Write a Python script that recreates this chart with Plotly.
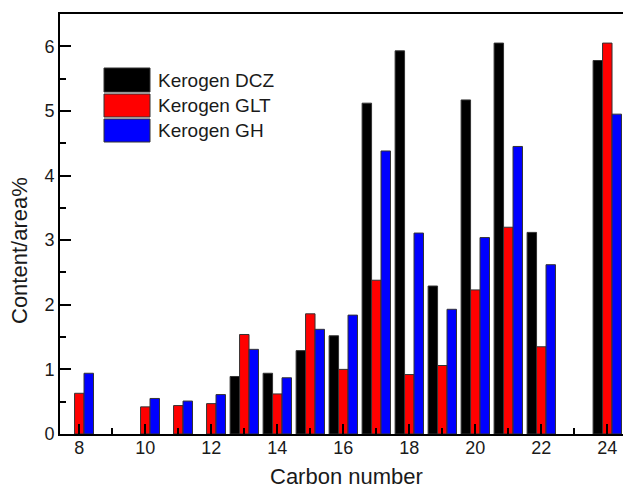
import plotly.graph_objects as go

# ---- data ----
carbon = [8, 9, 10, 11, 12, 13, 14, 15, 16, 17, 18, 19, 20, 21, 22, 23, 24]
kerogen_dcz = [None, None, None, None, None, 0.89, 0.94, 1.29, 1.52, 5.12, 5.93, 2.29, 5.17, 6.05, 3.12, None, 5.78]
kerogen_glt = [0.63, None, 0.42, 0.44, 0.47, 1.54, 0.62, 1.86, 1.00, 2.38, 0.92, 1.06, 2.23, 3.20, 1.35, None, 6.05]
kerogen_gh = [0.94, None, 0.55, 0.51, 0.61, 1.31, 0.87, 1.62, 1.84, 4.38, 3.11, 1.93, 3.04, 4.45, 2.62, None, 4.95]
series_names = ["Kerogen DCZ", "Kerogen GLT", "Kerogen GH"]
series_colors = ["#000000", "#ff0000", "#0000ff"]
x_ticks = [8, 10, 12, 14, 16, 18, 20, 22, 24]
y_ticks = [0, 1, 2, 3, 4, 5, 6]

FONT = "Liberation Sans, Arial, Helvetica, sans-serif"
TXT = "#1a1a1a"

fig = go.Figure()
for name, vals, col in zip(series_names, [kerogen_dcz, kerogen_glt, kerogen_gh], series_colors):
    fig.add_trace(go.Bar(
        x=carbon, y=vals, name=name, showlegend=False,
        marker=dict(color=col, line=dict(color="#333333", width=1)),
    ))

# custom legend (large swatches like the reference)
W = 563.0
H = 420.0
def px_x(p):
    return (p - 60) / W
def px_y(p):
    return (434 - p) / H

swatch_rows = [(68, 92), (94, 117), (119, 142)]
for (top, bot), name, col in zip(swatch_rows, series_names, series_colors):
    fig.add_shape(type="rect", xref="paper", yref="paper",
                  x0=px_x(104), x1=px_x(150), y0=px_y(bot), y1=px_y(top),
                  fillcolor=col, line=dict(color="#333333", width=1))
    fig.add_annotation(xref="paper", yref="paper", x=px_x(156), y=px_y((top + bot) / 2),
                       text=name, showarrow=False, xanchor="left", yanchor="middle",
                       font=dict(family=FONT, size=19, color=TXT))

# axis titles
fig.add_annotation(xref="paper", yref="paper", x=px_x(346), y=px_y(490),
                   text="Carbon number", showarrow=False, xanchor="center", yanchor="bottom",
                   borderpad=0,
                   font=dict(family=FONT, size=22, color=TXT))
fig.add_annotation(xref="paper", yref="paper", x=px_x(19), y=px_y(251),
                   text="Content/area%", showarrow=False, textangle=-90,
                   xanchor="center", yanchor="middle",
                   font=dict(family=FONT, size=22, color=TXT))

fig.update_layout(
    width=623, height=490,
    margin=dict(l=60, r=0, t=14, b=56),
    paper_bgcolor="white", plot_bgcolor="white",
    barmode="group", bargap=0.14, bargroupgap=0,
    font=dict(family=FONT, size=18, color=TXT),
    xaxis=dict(
        range=[7.415, 24.476], tickmode="array", tickvals=x_ticks,
        ticks="inside", ticklen=10, tickwidth=2, tickcolor="black",
        ticklabelstandoff=-4,
        minor=dict(dtick=1, tick0=8, ticks="inside", ticklen=6, tickwidth=2, tickcolor="black", showgrid=False),
        showline=True, linewidth=2, linecolor="black", mirror=True,
        showgrid=False, zeroline=False,
        tickfont=dict(family=FONT, size=18, color=TXT),
    ),
    yaxis=dict(
        range=[0, 6.5], tickmode="array", tickvals=y_ticks,
        ticks="inside", ticklen=11, tickwidth=2, tickcolor="black",
        minor=dict(dtick=0.5, tick0=0, ticks="inside", ticklen=6, tickwidth=2, tickcolor="black", showgrid=False),
        showline=True, linewidth=2, linecolor="black", mirror=False,
        showgrid=False, zeroline=False,
        tickfont=dict(family=FONT, size=18, color=TXT),
    ),
)

fig.write_html("out.html")
